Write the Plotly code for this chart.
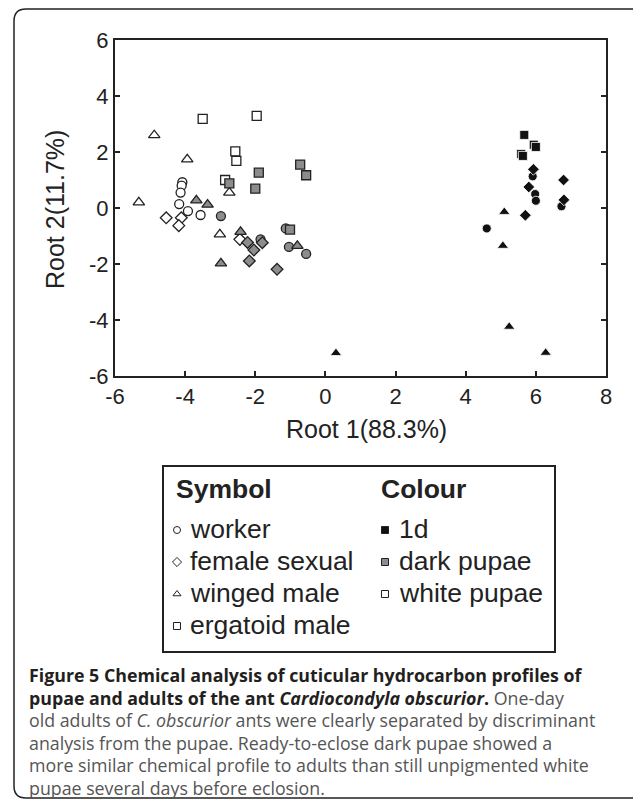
import plotly.graph_objects as go

W, H = 633, 803

# ---------------- data (Root 1, Root 2) ----------------
# white pupae (open symbols)
wp_worker_x = [-4.08, -4.10, -4.13, -4.17, -3.92, -3.56]
wp_worker_y = [0.92, 0.80, 0.55, 0.14, -0.11, -0.25]
wp_female_x = [-4.54, -4.11, -4.18, -2.44]
wp_female_y = [-0.35, -0.35, -0.63, -1.12]
wp_winged_x = [-4.88, -3.94, -5.32, -2.74, -3.01]
wp_winged_y = [2.60, 1.74, 0.20, 0.55, -0.94]
wp_ergatoid_x = [-3.50, -1.96, -2.57, -2.54, -2.86]
wp_ergatoid_y = [3.18, 3.29, 2.02, 1.68, 1.00]

# dark pupae (grey symbols)
dp_worker_x = [-2.98, -1.85, -1.13, -1.04, -0.55]
dp_worker_y = [-0.29, -1.12, -0.73, -1.39, -1.64]
dp_female_x = [-2.22, -1.80, -2.04, -2.17, -1.38]
dp_female_y = [-1.23, -1.24, -1.50, -1.89, -2.19]
dp_winged_x = [-3.68, -3.36, -2.42, -0.80, -2.98]
dp_winged_y = [0.27, 0.12, -0.85, -1.35, -1.98]
dp_ergatoid_x = [-1.90, -0.72, -0.55, -2.74, -2.00, -1.01]
dp_ergatoid_y = [1.26, 1.55, 1.17, 0.88, 0.69, -0.77]

# 1d adults (black symbols)
d1_worker_x = [5.91, 5.98, 6.00, 6.73, 4.60]
d1_worker_y = [1.13, 0.50, 0.26, 0.06, -0.73]
d1_female_x = [5.93, 6.79, 5.80, 6.80, 5.70]
d1_female_y = [1.38, 1.00, 0.75, 0.29, -0.26]
d1_winged_x = [5.10, 5.06, 5.24, 6.28, 0.30]
d1_winged_y = [-0.14, -1.35, -4.24, -5.17, -5.18]
d1_ergatoid_x = [5.67, 5.94, 5.58, 5.63, 6.00]
d1_ergatoid_y = [2.61, 2.26, 1.93, 1.86, 2.18]

x_ticks = [-6, -4, -2, 0, 2, 4, 6, 8]
x_tick_labels = ["-6", "-4", "-2", "0", "2", "4", "6", "8"]
y_ticks = [-6, -4, -2, 0, 2, 4, 6]
y_tick_labels = ["-6", "-4", "-2", "0", "2", "4", "6"]

x_title = "Root 1(88.3%)"
y_title = "Root 2(11.7%)"

symbol_names = ["worker", "female sexual", "winged male", "ergatoid male"]
colour_names = ["1d", "dark pupae", "white pupae"]

caption_lines = [
    "<b>Figure 5 Chemical analysis of cuticular hydrocarbon profiles of</b>",
    "<b>pupae and adults of the ant <i>Cardiocondyla obscurior</i>.</b> One-day",
    "old adults of <i>C. obscurior</i> ants were clearly separated by discriminant",
    "analysis from the pupae. Ready-to-eclose dark pupae showed a",
    "more similar chemical profile to adults than still unpigmented white",
    "pupae several days before eclosion.",
]

# ---------------- styles ----------------
SYM = {"worker": "circle", "female sexual": "diamond",
       "winged male": "triangle-up", "ergatoid male": "square"}
SIZE = {"worker": 9, "female sexual": 9, "winged male": 10, "ergatoid male": 9}
FILL = {"1d": "#111111", "dark pupae": "#8c8c8c", "white pupae": "#ffffff"}
EDGE = {"1d": "#ffffff", "dark pupae": "#222222", "white pupae": "#222222"}

groups = [
    ("white pupae", "worker", wp_worker_x, wp_worker_y),
    ("white pupae", "female sexual", wp_female_x, wp_female_y),
    ("white pupae", "winged male", wp_winged_x, wp_winged_y),
    ("white pupae", "ergatoid male", wp_ergatoid_x, wp_ergatoid_y),
    ("dark pupae", "worker", dp_worker_x, dp_worker_y),
    ("dark pupae", "female sexual", dp_female_x, dp_female_y),
    ("dark pupae", "winged male", dp_winged_x, dp_winged_y),
    ("dark pupae", "ergatoid male", dp_ergatoid_x, dp_ergatoid_y),
    ("1d", "worker", d1_worker_x, d1_worker_y),
    ("1d", "female sexual", d1_female_x, d1_female_y),
    ("1d", "winged male", d1_winged_x, d1_winged_y),
    ("1d", "ergatoid male", d1_ergatoid_x, d1_ergatoid_y),
]

fig = go.Figure()
for col, sym, xs, ys in groups:
    fig.add_trace(go.Scatter(
        x=xs, y=ys, mode="markers", name=f"{sym} ({col})", showlegend=False,
        marker=dict(symbol=SYM[sym], size=SIZE[sym], color=FILL[col],
                    line=dict(color=EDGE[col], width=1.3 if col != "1d" else 0.8)),
        xaxis="x", yaxis="y"))

# plot box in pixel coordinates
PL, PR, PT, PB = 115, 606, 40, 376
ARIAL = "Liberation Sans, Arial, sans-serif"
TICKFONT = dict(family=ARIAL, size=22, color="#222")
TITLEFONT = dict(family=ARIAL, size=25, color="#222")

fig.update_layout(
    width=W, height=H,
    margin=dict(l=0, r=0, t=0, b=0),
    paper_bgcolor="white", plot_bgcolor="rgba(0,0,0,0)",
    xaxis=dict(domain=[PL / W, PR / W], range=[-6, 8], tickvals=x_ticks,
               ticktext=x_tick_labels, ticks="inside", ticklen=5, tickwidth=1.5,
               tickcolor="#222", showline=True, linewidth=2, linecolor="#222",
               mirror=True, showgrid=False, zeroline=False, tickfont=TICKFONT,
               automargin=False, fixedrange=True),
    yaxis=dict(domain=[(H - PB) / H, (H - PT) / H], range=[-6, 6], tickvals=y_ticks,
               ticktext=y_tick_labels, ticks="inside", ticklen=5, tickwidth=1.5,
               tickcolor="#222", showline=True, linewidth=2, linecolor="#222",
               mirror="ticks", showgrid=False, zeroline=False, tickfont=TICKFONT,
               automargin=False, fixedrange=True),
    # overlay axes in pixel units for titles / legend / caption decorations
    xaxis2=dict(domain=[0, 1], range=[0, W], visible=False, fixedrange=True),
    yaxis2=dict(domain=[0, 1], range=[H, 0], visible=False, fixedrange=True),
)

# axis titles
fig.add_annotation(x=(PL + PR) / 2 + 6, y=429, xref="x2", yref="y2", text=x_title,
                   showarrow=False, xanchor="center", yanchor="middle", font=TITLEFONT)
fig.add_annotation(x=55, y=(PT + PB) / 2 + 2, xref="x2", yref="y2", text=y_title,
                   textangle=-90, showarrow=False, xanchor="center", yanchor="middle",
                   font=TITLEFONT)

# outer rounded frame
r = 12
x0, y0, x1, y1 = 14, 9, 640, 798
frame = (f"M {x1},{y0} L {x0 + r},{y0} Q {x0},{y0} {x0},{y0 + r} "
         f"L {x0},{y1 - r} Q {x0},{y1} {x0 + r},{y1} L {x1},{y1}")
fig.add_shape(type="path", path=frame, xref="x2", yref="y2",
              line=dict(color="#222", width=1.5))

# legend box
LB = dict(x0=163, y0=466, x1=555, y1=652)
fig.add_shape(type="rect", xref="x2", yref="y2", **LB,
              line=dict(color="#222", width=2))

LFONT = dict(family=ARIAL, size=26.5, color="#222")
HFONT = dict(family=ARIAL, size=26.5, color="#222")
fig.add_annotation(x=174, y=489, xref="x2", yref="y2", text="<b>Symbol</b>",
                   showarrow=False, xanchor="left", yanchor="middle", font=HFONT)
fig.add_annotation(x=379, y=489, xref="x2", yref="y2", text="<b>Colour</b>",
                   showarrow=False, xanchor="left", yanchor="middle", font=HFONT)

row_y = [529, 561, 593, 625]
leg_x, leg_y, leg_sym, leg_fill = [], [], [], []
for i, name in enumerate(symbol_names):
    leg_x.append(177); leg_y.append(row_y[i] + 1); leg_sym.append(SYM[name])
    leg_fill.append("#ffffff")
    fig.add_annotation(x=188, y=row_y[i], xref="x2", yref="y2", text=name,
                       showarrow=False, xanchor="left", yanchor="middle", font=LFONT)
for i, name in enumerate(colour_names):
    leg_x.append(385); leg_y.append(row_y[i] + 1); leg_sym.append("square")
    leg_fill.append(FILL[name])
    fig.add_annotation(x=397, y=row_y[i], xref="x2", yref="y2", text=name,
                       showarrow=False, xanchor="left", yanchor="middle", font=LFONT)
fig.add_trace(go.Scatter(x=leg_x, y=leg_y, mode="markers", showlegend=False,
                         xaxis="x2", yaxis="y2", hoverinfo="skip",
                         marker=dict(symbol=leg_sym, size=7, color=leg_fill,
                                     line=dict(color="#222", width=1))))

# caption
CFONT = dict(family="Open Sans, Lato, sans-serif", size=17.8, color="#555")
for i, line in enumerate(caption_lines):
    fig.add_annotation(x=27, y=675 + i * 22.5, xref="x2", yref="y2",
                       text=line.replace("<b>", "<b style='color:#231f20'>"),
                       showarrow=False, xanchor="left", yanchor="middle", font=CFONT)

# remove the default 8px page margin so the figure sits at the window origin
fig.write_html("out.html", config={"displayModeBar": False},
               post_script="document.body.style.margin='0';")
